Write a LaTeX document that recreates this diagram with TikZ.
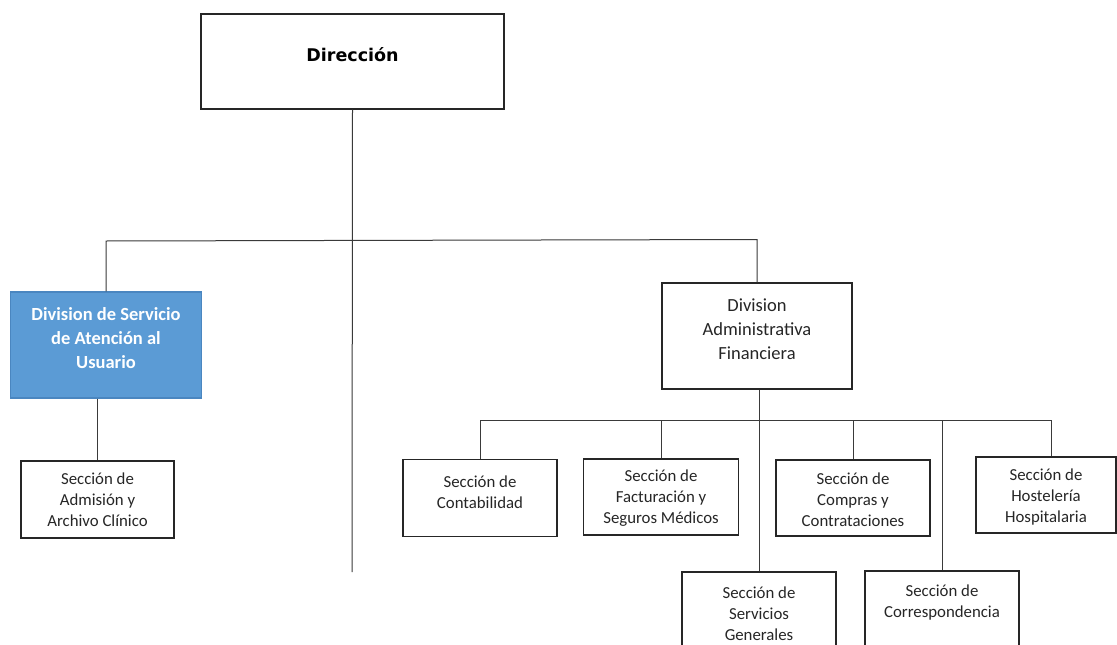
\documentclass[tikz,border=0pt]{standalone}
\usepackage{fontspec}
\setmainfont{Carlito}
\newfontfamily\dirfont{DejaVu Sans}
\definecolor{blueDiv}{HTML}{5B9BD5}
\definecolor{blueEdge}{HTML}{4A86C0}
\definecolor{lineGrey}{HTML}{3A3A3A}
\begin{document}
\begin{tikzpicture}[x=1pt,y=-1pt,
  box/.style={draw=black!85, line width=1.1pt, fill=white, inner sep=0pt},
  bluebox/.style={draw=blueEdge, line width=1.1pt, fill=blueDiv, inner sep=0pt},
  conn/.style={draw=lineGrey, line width=1pt},
  big/.style={align=center, font=\fontsize{18.5}{24}\selectfont, text=black!85},
  small/.style={align=center, font=\fontsize{16.8}{21}\selectfont, text=black!85}]
\clip (0,0) rectangle (1117,645);
\fill[white] (0,0) rectangle (1117,645);

% boxes
\node[box, minimum width=303pt, minimum height=95pt] (dir) at (352.5,61.5) {};
\node[font=\dirfont\bfseries\fontsize{17.5}{21}\selectfont] (dirT) at (352.5,55) {Dirección};

\node[bluebox, minimum width=191pt, minimum height=106pt] (blue) at (106,345) {};
\node[big, text=white, font=\bfseries\fontsize{18.5}{24}\selectfont] (blueT) at (106,338) {Division de Servicio\\de Atención al\\Usuario};

\node[box, minimum width=190pt, minimum height=106pt] (daf) at (757,336) {};
\node[big] (dafT) at (757,329) {Division\\Administrativa\\Financiera};

\node[box, minimum width=153pt, minimum height=77pt] (adm) at (97.5,499.5) {};
\node[small] (admT) at (97.5,500) {Sección de\\Admisión y\\Archivo Clínico};

\node[box, minimum width=154pt, minimum height=77pt] (cont) at (480,498) {};
\node[small] (contT) at (480,492) {Sección de\\Contabilidad};

\node[box, minimum width=155pt, minimum height=76pt] (fact) at (661,497) {};
\node[small] (factT) at (661,498) {Sección de\\Facturación y\\Seguros Médicos};

\node[box, minimum width=154pt, minimum height=76pt] (comp) at (853,498) {};
\node[small] (compT) at (853,500) {Sección de\\Compras y\\Contrataciones};

\node[box, minimum width=140pt, minimum height=76pt] (host) at (1046,495) {};
\node[small] (hostT) at (1046,497) {Sección de\\Hostelería\\Hospitalaria};

\node[box, minimum width=154pt, minimum height=78pt] (serv) at (759,611) {};
\node[small] (servT) at (759,614) {Sección de\\Servicios\\Generales};

\node[box, minimum width=154pt, minimum height=78pt] (corr) at (942,610) {};
\node[small] (corrT) at (942,603) {Sección de\\Correspondencia};

% connectors
\coordinate (mainEnd) at (352,572);
\draw[conn] (dir.south) -- (mainEnd);

\coordinate (busL) at (106,241);
\coordinate (busR) at (757,239.5);
\draw[conn] (blue.north) -- (busL) -- (busR) -- (daf.north);

\draw[conn] (adm.north |- blue.south) -- (adm.north);

\draw[conn] (serv.north |- daf.south) -- (serv.north);

\coordinate (b2L) at (480,420);
\coordinate (b2R) at (1051,420);
\draw[conn] (cont.north) -- (b2L) -- (b2R) -- (b2R |- host.north);
\draw[conn] (fact.north |- b2L) -- (fact.north);
\draw[conn] (comp.north |- b2L) -- (comp.north);
\draw[conn] (corr.north |- b2L) -- (corr.north);
\end{tikzpicture}
\end{document}
